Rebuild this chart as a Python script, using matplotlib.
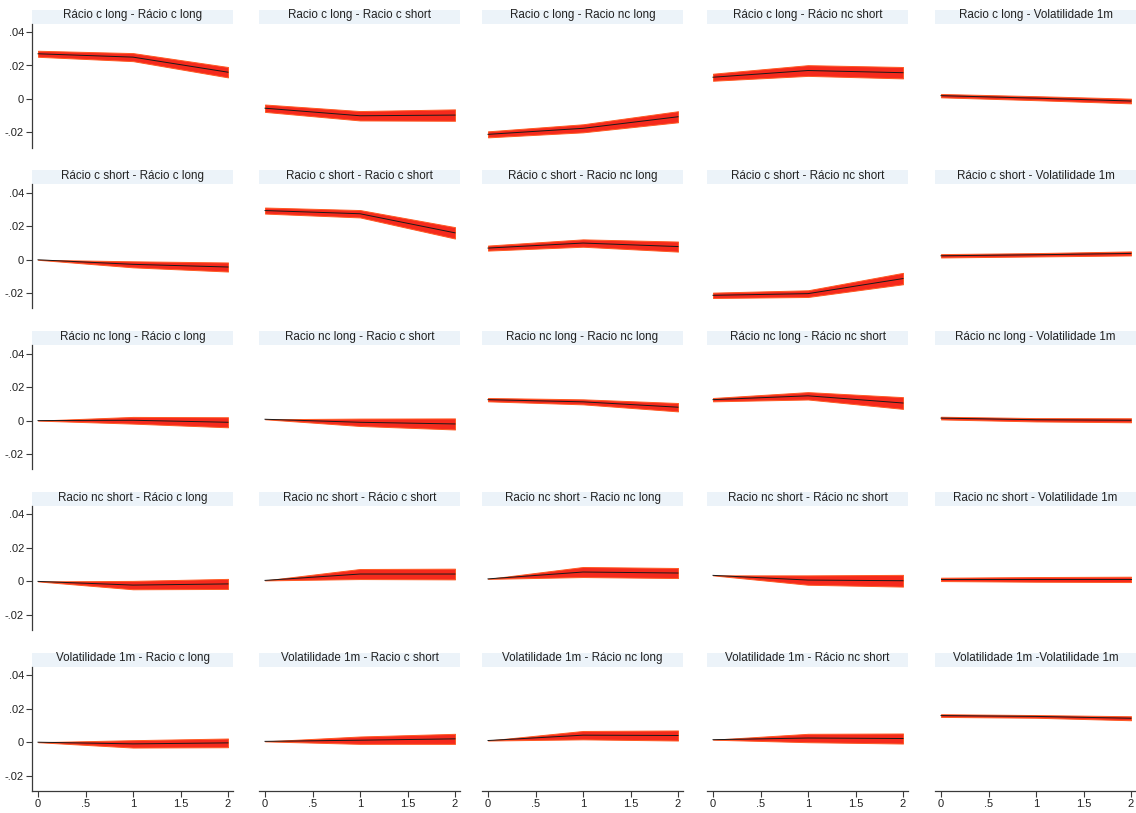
import matplotlib
matplotlib.use("Agg")
import matplotlib.pyplot as plt
from matplotlib.patches import Rectangle

plt.rcParams['font.family'] = ['Liberation Sans', 'DejaVu Sans']

# Forecast horizon (steps)
steps = [0, 1, 2]

# Impulse variables (rows) and response variables (columns) as titled
panel_titles = [
    ["Rácio c long - Rácio c long", "Racio c long - Racio c short", "Racio c long - Racio nc long",
     "Rácio c long - Rácio nc short", "Racio c long - Volatilidade 1m"],
    ["Rácio c short - Rácio c long", "Racio c short - Racio c short", "Rácio c short - Racio nc long",
     "Rácio c short - Rácio nc short", "Rácio c short - Volatilidade 1m"],
    ["Rácio nc long - Rácio c long", "Racio nc long - Racio c short", "Racio nc long - Racio nc long",
     "Rácio nc long - Rácio nc short", "Rácio nc long - Volatilidade 1m"],
    ["Racio nc short - Rácio c long", "Racio nc short - Rácio c short", "Racio nc short - Racio nc long",
     "Racio nc short - Rácio nc short", "Racio nc short - Volatilidade 1m"],
    ["Volatilidade 1m - Racio c long", "Volatilidade 1m - Racio c short", "Volatilidade 1m - Rácio nc long",
     "Volatilidade 1m - Rácio nc short", "Volatilidade 1m -Volatilidade 1m"],
]

# Orthogonalized impulse responses, one row per impulse
irf_c_long = [
    [0.0270, 0.0250, 0.0160], [-0.0055, -0.0100, -0.0096], [-0.0211, -0.0175, -0.0106],
    [0.0130, 0.0170, 0.0157], [0.0020, 0.0005, -0.0012],
]
irf_c_short = [
    [0.0000, -0.0027, -0.0043], [0.0294, 0.0275, 0.0161], [0.0070, 0.0100, 0.0079],
    [-0.0212, -0.0202, -0.0112], [0.0024, 0.0030, 0.0038],
]
irf_nc_long = [
    [0.0000, 0.0002, -0.0010], [0.0008, -0.0010, -0.0020], [0.0125, 0.0112, 0.0080],
    [0.0125, 0.0148, 0.0105], [0.0015, 0.0005, 0.0002],
]
irf_nc_short = [
    [0.0000, -0.0022, -0.0015], [0.0006, 0.0044, 0.0044], [0.0015, 0.0056, 0.0050],
    [0.0036, 0.0008, 0.0004], [0.0012, 0.0012, 0.0012],
]
irf_vol_1m = [
    [0.0000, -0.0010, -0.0004], [0.0005, 0.0012, 0.0020], [0.0010, 0.0042, 0.0040],
    [0.0015, 0.0025, 0.0022], [0.0159, 0.0154, 0.0143],
]

# Half-width of the 95% confidence band at each step
ci_c_long = [
    [0.0018, 0.0024, 0.0031], [0.0022, 0.0028, 0.0034], [0.0018, 0.0024, 0.0033],
    [0.0021, 0.0032, 0.0034], [0.0010, 0.0012, 0.0014],
]
ci_c_short = [
    [0.0000, 0.0018, 0.0027], [0.0018, 0.0022, 0.0034], [0.0015, 0.0022, 0.0030],
    [0.0016, 0.0020, 0.0034], [0.0010, 0.0010, 0.0012],
]
ci_nc_long = [
    [0.0000, 0.0020, 0.0030], [0.0000, 0.0022, 0.0033], [0.0010, 0.0015, 0.0025],
    [0.0010, 0.0022, 0.0035], [0.0008, 0.0010, 0.0012],
]
ci_nc_short = [
    [0.0000, 0.0025, 0.0030], [0.0000, 0.0030, 0.0032], [0.0000, 0.0030, 0.0030],
    [0.0000, 0.0028, 0.0035], [0.0010, 0.0014, 0.0016],
]
ci_vol_1m = [
    [0.0000, 0.0022, 0.0026], [0.0000, 0.0022, 0.0030], [0.0000, 0.0025, 0.0030],
    [0.0000, 0.0025, 0.0030], [0.0008, 0.0008, 0.0012],
]

irf_rows = [irf_c_long, irf_c_short, irf_nc_long, irf_nc_short, irf_vol_1m]
ci_rows = [ci_c_long, ci_c_short, ci_nc_long, ci_nc_short, ci_vol_1m]

y_ticks = [-0.02, 0, 0.02, 0.04]
y_ticklabels = ["-.02", "0", ".02", ".04"]
x_ticks = [0, 0.5, 1, 1.5, 2]
x_ticklabels = ["0", ".5", "1", "1.5", "2"]

W, H = 1136, 813
fig = plt.figure(figsize=(W / 100, H / 100), dpi=100)
fig.patch.set_facecolor("white")

xlim = (-0.06, 2.05)
ylim = (-0.029, 0.045)
px_per_x = 95.0
px_per_y = 1675.0
col_x0 = [38, 265, 488, 713, 941]
row_y0 = [99 + 160.8 * r for r in range(5)]

ax_w = (xlim[1] - xlim[0]) * px_per_x
ax_h = (ylim[1] - ylim[0]) * px_per_y
band_h = 14.0

tick_color = "#3a3a3a"

for r in range(5):
    for c in range(5):
        left = col_x0[c] + xlim[0] * px_per_x
        top = row_y0[r] - ylim[1] * px_per_y
        ax = fig.add_axes([left / W, 1 - (top + ax_h) / H, ax_w / W, ax_h / H])
        ax.set_xlim(*xlim)
        ax.set_ylim(*ylim)
        ax.set_facecolor("none")

        vals = irf_rows[r][c]
        half = ci_rows[r][c]
        lo = [v - h for v, h in zip(vals, half)]
        hi = [v + h for v, h in zip(vals, half)]
        ax.fill_between(steps, lo, hi, facecolor="#f52a1c", edgecolor="#ff5a24",
                        linewidth=0.7, zorder=2)
        ax.plot(steps, vals, color="#1a1a1a", linewidth=0.7, zorder=3)

        for side in ("top", "right"):
            ax.spines[side].set_visible(False)
        ax.spines["left"].set_visible(c == 0)
        ax.spines["bottom"].set_visible(r == 4)
        for side in ("left", "bottom"):
            ax.spines[side].set_color(tick_color)
            ax.spines[side].set_linewidth(0.9)

        if c == 0:
            ax.set_yticks(y_ticks)
            ax.set_yticklabels(y_ticklabels)
        else:
            ax.set_yticks([])
        if r == 4:
            ax.set_xticks(x_ticks)
            ax.set_xticklabels(x_ticklabels)
        else:
            ax.set_xticks([])
        ax.tick_params(axis="both", direction="out", length=4, width=0.8,
                       colors=tick_color, labelsize=8, pad=2, labelcolor="#222222")

        # Title strip above each panel
        ax.add_patch(Rectangle((0, 1.0), 1.0, band_h / ax_h, transform=ax.transAxes,
                               facecolor="#ecf3f9", edgecolor="none", clip_on=False, zorder=1))
        ax.text(0.5, 1.0 + (band_h / 2 + 1.5) / ax_h, panel_titles[r][c], transform=ax.transAxes,
                ha="center", va="center", fontsize=8.4, color="#222222", zorder=2)

fig.savefig("out.png", dpi=100, facecolor="white")
